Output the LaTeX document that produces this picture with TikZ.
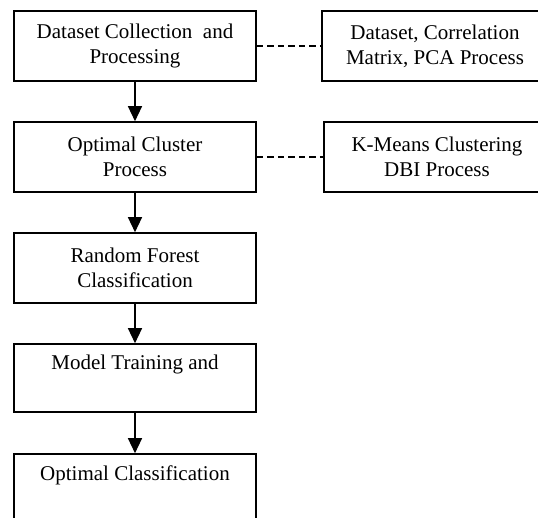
\documentclass[tikz,border=0pt]{standalone}
\usepackage{fontspec}
\setmainfont{Liberation Serif}
\usetikzlibrary{arrows.meta}

\tikzset{
  stagebox/.style={draw, line width=1.6pt, minimum width=242pt, minimum height=70pt,
    align=center, inner sep=2pt, font=\fontsize{21}{25}\selectfont},
  sidebox/.style={stagebox, minimum width=226pt},
  flow/.style={line width=1.3pt, -{Triangle[width=14pt,length=15pt]}},
  link/.style={line width=1.5pt, dash pattern=on 6.5pt off 4pt},
}

\begin{document}
\begin{tikzpicture}[x=1pt, y=-1pt]
  \clip (0,0) rectangle (538,517);

  % main pipeline
  \node[stagebox] (collect) at (135,46)  {Dataset Collection\ \ and\\Processing};
  \node[stagebox] (cluster) at (135,157) {Optimal Cluster\\Process};
  \node[stagebox] (forest)  at (135,268) {Random Forest\\Classification};
  \node[stagebox, minimum height=68pt] (train) at (135,378) {Model Training and\\\strut};
  \node[stagebox] (result)  at (135,489) {Optimal Classification\\\strut};

  % side details
  \node[sidebox] (detail1) at (435,46)  {Dataset, Correlation\\Matrix, PCA Process};
  \node[sidebox] (detail2) at (437,157) {K-Means Clustering\\DBI Process};

  % connectors
  \draw[flow] (collect) -- (cluster);
  \draw[flow] (cluster) -- (forest);
  \draw[flow] (forest) -- (train);
  \draw[flow] (train) -- (result);
  \draw[link] (collect) -- (detail1);
  \draw[link] (cluster) -- (detail2);
\end{tikzpicture}
\end{document}
